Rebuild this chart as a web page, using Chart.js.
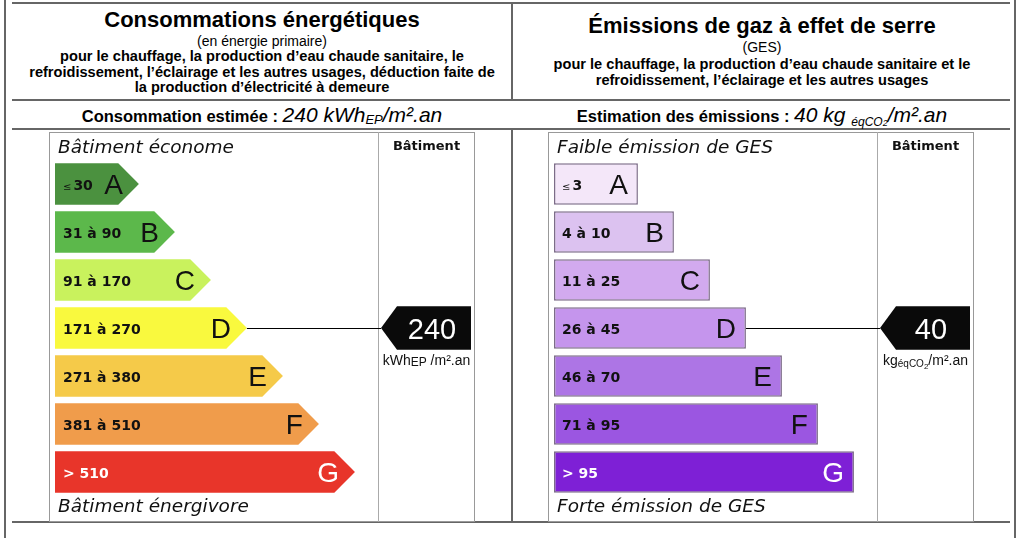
<!DOCTYPE html>
<html lang="fr">
<head>
<meta charset="utf-8">
<title>Diagnostic de performance énergétique</title>
<script src="https://cdn.jsdelivr.net/npm/chart.js@4.4.1/dist/chart.umd.min.js"></script>
<style>
  html, body { margin: 0; padding: 0; background: #fff; }
  #page { position: relative; width: 1024px; height: 538px; overflow: hidden;
          font-family: "Liberation Sans", Arial, sans-serif; color: #000; }
  .ln { position: absolute; background: #666; }
  .txt { position: absolute; width: 500px; text-align: center; white-space: nowrap; }
  .title { font-size: 22px; font-weight: bold; line-height: 24px; }
  .sub { font-size: 14px; line-height: 16px; }
  .para { font-size: 14.6px; font-weight: bold; line-height: 15.5px; }
  .est { font-size: 16.5px; font-weight: bold; line-height: 24px; }
  .est i { font-weight: normal; font-size: 21px; }
  .est i sub { font-size: 13px; vertical-align: -2px; }
  .est i .sm { font-size: 12px; vertical-align: -4px; }
  .est i .sm2 { font-size: 9px; }
  canvas { position: absolute; }
</style>
</head>
<body>
<div id="page">
  <!-- frame -->
  <div class="ln" style="left:4px;top:0;width:2px;height:538px"></div>
  <div class="ln" style="left:1014px;top:0;width:2px;height:538px"></div>
  <div class="ln" style="left:12px;top:2px;width:998px;height:2px"></div>
  <div class="ln" style="left:12px;top:99px;width:998px;height:2px"></div>
  <div class="ln" style="left:12px;top:128px;width:998px;height:2px"></div>
  <div class="ln" style="left:12px;top:521px;width:998px;height:2px"></div>
  <div class="ln" style="left:511px;top:3px;width:2px;height:97px"></div>
  <div class="ln" style="left:511px;top:129px;width:2px;height:393px"></div>

  <!-- left header -->
  <div class="txt title" style="left:12px;top:8px">Consommations énergétiques</div>
  <div class="txt sub" style="left:12px;top:33px">(en énergie primaire)</div>
  <div class="txt para" style="left:12px;top:49px">pour le chauffage, la production d’eau chaude sanitaire, le<br>refroidissement, l’éclairage et les autres usages, déduction faite de<br>la production d’électricité à demeure</div>
  <div class="txt est" style="left:12px;top:103px">Consommation estimée : <i>240 kWh<sub>EP</sub>/m².an</i></div>

  <!-- right header -->
  <div class="txt title" style="left:512px;top:14px">Émissions de gaz à effet de serre</div>
  <div class="txt sub" style="left:512px;top:39px">(GES)</div>
  <div class="txt para" style="left:512px;top:57px">pour le chauffage, la production d’eau chaude sanitaire et le<br>refroidissement, l’éclairage et les autres usages</div>
  <div class="txt est" style="left:512px;top:103px">Estimation des émissions : <i>40 kg <span class="sm">éqCO<span class="sm2">2</span></span>/m².an</i></div>

  <canvas id="energyChart" width="426" height="390" style="left:49px;top:132px"></canvas>
  <canvas id="gesChart" width="426" height="390" style="left:548px;top:132px"></canvas>
</div>

<script>
// classes and thresholds
const classes = ['A', 'B', 'C', 'D', 'E', 'F', 'G'];
const classRank = [1, 2, 3, 4, 5, 6, 7];
const energyRanges = ['≤ 30', '31 à 90', '91 à 170', '171 à 270', '271 à 380', '381 à 510', '> 510'];
const energyLimits = [30, 90, 170, 270, 380, 510];
const gesRanges = ['≤ 3', '4 à 10', '11 à 25', '26 à 45', '46 à 70', '71 à 95', '> 95'];
const gesLimits = [3, 10, 25, 45, 70, 95];

// values of the building
const energyValue = 240;
const gesValue = 40;

const energyColors = ['#4b913f', '#5cb84b', '#c9f25d', '#f9f93e', '#f5ca49', '#f09c4b', '#e8352a'];
const gesColors = ['#f4e7f9', '#dcc2f0', '#d2aaef', '#c595ed', '#ad75e5', '#9b56e1', '#7e20d6'];

// x axis bounds (bar length is the class rank)
const X_MIN = -1.33;
const X_MAX = 7.64;

function classIndex(value, limits) {
    for (let i = 0; i < limits.length; i++) {
        if (value <= limits[i]) return i;
    }
    return limits.length;
}

// draw a row of text pieces centred (or left aligned) at x
function drawParts(ctx, parts, x, baseline, align) {
    let total = 0;
    parts.forEach(p => { ctx.font = p.font; total += ctx.measureText(p.t).width + (p.gap || 0); });
    let cx = align === 'left' ? x : x - total / 2;
    ctx.textAlign = 'left';
    parts.forEach(p => {
        ctx.font = p.font;
        ctx.fillText(p.t, cx, baseline + (p.dy || 0));
        cx += ctx.measureText(p.t).width + (p.gap || 0);
    });
}

function makeDecor(cfg) {
    return {
        id: 'dpeDecor',
        beforeDraw(chart) {
            const ctx = chart.ctx;
            const area = chart.chartArea;
            ctx.save();
            ctx.strokeStyle = '#999';
            ctx.lineWidth = 1;
            ctx.strokeRect(0.5, 0.5, chart.width - 1, chart.height - 1);
            ctx.strokeStyle = '#aaa';
            ctx.beginPath();
            ctx.moveTo(Math.round(area.right) + 0.5, 0);
            ctx.lineTo(Math.round(area.right) + 0.5, chart.height);
            ctx.stroke();
            ctx.restore();
        },
        afterDatasetsDraw(chart) {
            const ctx = chart.ctx;
            const area = chart.chartArea;
            const meta = chart.getDatasetMeta(0);
            ctx.save();

            meta.data.forEach((bar, i) => {
                const p = bar.getProps(['x', 'y', 'base', 'height'], true);
                // floating bars may come back with start/end swapped
                const left = Math.min(p.x, p.base);
                const right = Math.max(p.x, p.base);
                const top = p.y - p.height / 2;
                const bottom = p.y + p.height / 2;

                if (cfg.arrow) {
                    const d = p.height / 2;
                    ctx.beginPath();
                    ctx.moveTo(left, top);
                    ctx.lineTo(right - d, top);
                    ctx.lineTo(right, p.y);
                    ctx.lineTo(right - d, bottom);
                    ctx.lineTo(left, bottom);
                    ctx.closePath();
                    ctx.fillStyle = cfg.colors[i];
                    ctx.fill();
                }

                const light = i === classes.length - 1;
                ctx.fillStyle = light ? '#fff' : '#111';

                // range text
                const range = cfg.ranges[i];
                const parts = range.startsWith('≤')
                    ? [{ t: '≤', font: '10px "DejaVu Sans"', gap: 2 }, { t: range.slice(2), font: 'bold 14px "DejaVu Sans"' }]
                    : [{ t: range, font: 'bold 14px "DejaVu Sans"' }];
                drawParts(ctx, parts, left + 8, p.y + 6, 'left');

                // class letter
                ctx.font = '28px "Liberation Sans"';
                ctx.textAlign = 'right';
                ctx.fillText(classes[i], right - (cfg.arrow ? 16 : 10), p.y + 10);
            });

            ctx.fillStyle = '#111';
            ctx.textAlign = 'left';
            ctx.font = 'italic 18.5px "DejaVu Sans"';
            ctx.fillText(cfg.topLabel, area.left + 3, area.top - 7);
            ctx.fillText(cfg.bottomLabel, area.left + 3, area.bottom + 16);

            const colMid = (area.right + chart.width) / 2;
            ctx.font = 'bold 13px "DejaVu Sans"';
            ctx.textAlign = 'center';
            ctx.fillText('Bâtiment', colMid, 18);

            // marker for the building value
            const idx = classIndex(cfg.value, cfg.limits);
            const bar = meta.data[idx].getProps(['x', 'y', 'base', 'height'], true);
            const barEnd = Math.max(bar.x, bar.base);
            const half = bar.height / 2 + 1;
            const tipX = area.right + 3;
            const bodyL = area.right + 19;
            const bodyR = chart.width - 4;

            ctx.strokeStyle = '#000';
            ctx.lineWidth = 1;
            ctx.beginPath();
            ctx.moveTo(barEnd, Math.round(bar.y) + 0.5);
            ctx.lineTo(tipX, Math.round(bar.y) + 0.5);
            ctx.stroke();

            ctx.fillStyle = '#0a0a0a';
            ctx.beginPath();
            ctx.moveTo(tipX, bar.y);
            ctx.lineTo(bodyL, bar.y - half);
            ctx.lineTo(bodyR, bar.y - half);
            ctx.lineTo(bodyR, bar.y + half);
            ctx.lineTo(bodyL, bar.y + half);
            ctx.closePath();
            ctx.fill();

            ctx.fillStyle = '#fff';
            ctx.font = '29px "Liberation Sans"';
            ctx.textAlign = 'center';
            ctx.fillText(String(cfg.value), (bodyL + bodyR) / 2 - 2, bar.y + 10.5);

            ctx.fillStyle = '#111';
            drawParts(ctx, cfg.unit, colMid, bar.y + half + 15, 'center');

            ctx.restore();
        }
    };
}

function makeChart(canvasId, dataset, decor) {
    return new Chart(document.getElementById(canvasId), {
        type: 'bar',
        data: {
            labels: classes,
            datasets: [dataset]
        },
        options: {
            responsive: false,
            animation: false,
            indexAxis: 'y',
            events: [],
            layout: { padding: { top: 28, bottom: 26, left: 6, right: 97 } },
            plugins: {
                legend: { display: false },
                tooltip: { enabled: false }
            },
            scales: {
                x: { type: 'linear', min: X_MIN, max: X_MAX, display: false },
                y: { type: 'category', display: false, offset: true }
            }
        },
        plugins: [makeDecor(decor)]
    });
}

const unitFont = '14px "Liberation Sans"';

makeChart('energyChart', {
    data: classRank.map(r => [X_MIN, r]),
    backgroundColor: 'rgba(0,0,0,0)',
    borderWidth: 0,
    barPercentage: 0.86,
    categoryPercentage: 1.0
}, {
    arrow: true,
    colors: energyColors,
    ranges: energyRanges,
    limits: energyLimits,
    value: energyValue,
    topLabel: 'Bâtiment économe',
    bottomLabel: 'Bâtiment énergivore',
    unit: [
        { t: 'kWh', font: unitFont },
        { t: 'EP', font: '12px "Liberation Sans"', dy: 1 },
        { t: ' /m².an', font: unitFont }
    ]
});

makeChart('gesChart', {
    data: classRank.map(r => [X_MIN, r]),
    backgroundColor: gesColors,
    borderColor: '#7c6c88',
    borderWidth: 1.5,
    borderSkipped: false,
    barPercentage: 0.86,
    categoryPercentage: 1.0
}, {
    arrow: false,
    colors: gesColors,
    ranges: gesRanges,
    limits: gesLimits,
    value: gesValue,
    topLabel: 'Faible émission de GES',
    bottomLabel: 'Forte émission de GES',
    unit: [
        { t: 'kg', font: unitFont },
        { t: 'éqCO', font: '10px "Liberation Sans"', dy: 2 },
        { t: '2', font: '8px "Liberation Sans"', dy: 4 },
        { t: '/m².an', font: unitFont }
    ]
});
</script>
</body>
</html>
